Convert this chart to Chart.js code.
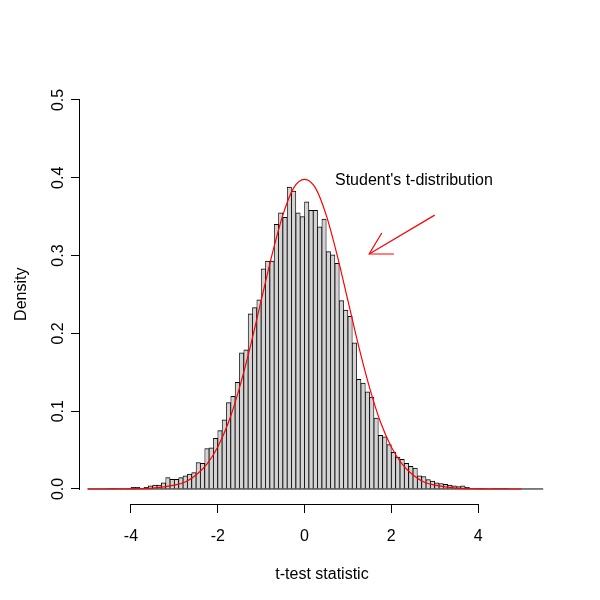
<!DOCTYPE html>
<html>
<head>
<meta charset="utf-8">
<script src="https://cdn.jsdelivr.net/npm/chart.js@4.4.0/dist/chart.umd.min.js"></script>
<style>
  html, body { margin: 0; padding: 0; background: #fff; }
  #chart { display: block; }
</style>
</head>
<body>
<canvas id="chart" width="600" height="600"></canvas>
<script>
// histogram: first break, bin width, density of each bin
var first_break = -5
var bin_width = 0.1
var densities = [
  0, 0, 0, 0, 0.0005, 0.001, 0.001, 0.0005, 0, 0.0005,
  0.002, 0.002, 0.001, 0.002, 0.004, 0.005, 0.005, 0.008, 0.0145, 0.0125,
  0.0125, 0.0145, 0.017, 0.019, 0.021, 0.034, 0.033, 0.052, 0.053, 0.065,
  0.075, 0.089, 0.111, 0.119, 0.137, 0.175, 0.179, 0.225, 0.233, 0.243,
  0.283, 0.293, 0.293, 0.340, 0.355, 0.349, 0.388, 0.383, 0.355, 0.350,
  0.369, 0.358, 0.358, 0.337, 0.347, 0.305, 0.301, 0.290, 0.242, 0.230,
  0.222, 0.188, 0.141, 0.136, 0.125, 0.118, 0.091, 0.069, 0.067, 0.057,
  0.047, 0.041, 0.038, 0.033, 0.029, 0.027, 0.017, 0.016, 0.012, 0.010,
  0.008, 0.007, 0.006, 0.005, 0.004, 0.003, 0.004, 0.002, 0.001, 0.0005,
  0.001, 0.001, 0, 0.001, 0.001, 0.001, 0.001, 0, 0, 0,
  0, 0, 0, 0, 0
]

// Student's t density curve (red)
var curve_x = [-5, -4.5, -4, -3.5, -3, -2.75, -2.5, -2.25, -2, -1.75, -1.5, -1.25, -1, -0.75, -0.5, -0.25,
  0, 0.25, 0.5, 0.75, 1, 1.25, 1.5, 1.75, 2, 2.25, 2.5, 2.75, 3, 3.5, 4, 4.5, 5]
var curve_y = [0, 0, 0.0002, 0.001, 0.005, 0.009, 0.018, 0.032, 0.054, 0.086, 0.13, 0.183, 0.242, 0.301, 0.352, 0.387,
  0.398, 0.387, 0.352, 0.301, 0.242, 0.183, 0.13, 0.086, 0.054, 0.032, 0.018, 0.009, 0.005, 0.001, 0.0002, 0, 0]

// arrow pointing at the curve, and its label
var arrow_shaft_x = [3.0, 1.49]
var arrow_shaft_y = [0.352, 0.302]
var arrow_head_x = [1.78, 1.49, 2.06]
var arrow_head_y = [0.329, 0.302, 0.302]
var note_text = "Student's t-distribution"
var note_x = 2.52
var note_y = 0.396

var x_ticks = [-4, -2, 0, 2, 4]
var y_ticks = [0, 0.1, 0.2, 0.3, 0.4, 0.5]

var FONT = '"Liberation Sans", Arial, Helvetica, sans-serif'

function pts(xs, ys) {
  return xs.map(function (x, i) { return {x: x, y: ys[i]} })
}

var bars = densities.map(function (d, i) {
  return {x: first_break + bin_width * (i + 0.5), y: d}
})
var last_break = first_break + bin_width * densities.length

// R-style axis lines (only between first and last tick) and the note text
var rAxes = {
  id: 'rAxes',
  afterDraw: function (chart) {
    var ctx = chart.ctx, xs = chart.scales.x, ys = chart.scales.y, area = chart.chartArea
    ctx.save()
    ctx.strokeStyle = '#000'
    ctx.lineWidth = 1
    ctx.beginPath()
    var yb = Math.round(area.bottom) + 0.5
    ctx.moveTo(Math.round(xs.getPixelForValue(x_ticks[0])), yb)
    ctx.lineTo(Math.round(xs.getPixelForValue(x_ticks[x_ticks.length - 1])) + 1, yb)
    var xl = Math.round(area.left) - 0.5
    ctx.moveTo(xl, Math.round(ys.getPixelForValue(y_ticks[0])) + 1)
    ctx.lineTo(xl, Math.round(ys.getPixelForValue(y_ticks[y_ticks.length - 1])))
    ctx.stroke()

    ctx.fillStyle = '#000'
    ctx.font = '16px ' + FONT
    ctx.textAlign = 'center'
    ctx.textBaseline = 'middle'
    ctx.fillText(note_text, xs.getPixelForValue(note_x), ys.getPixelForValue(note_y))
    ctx.restore()
  }
}

var bgWhite = {
  id: 'bgWhite',
  beforeDraw: function (chart) {
    var ctx = chart.ctx
    ctx.save()
    ctx.fillStyle = '#fff'
    ctx.fillRect(0, 0, chart.width, chart.height)
    ctx.restore()
  }
}

Chart.defaults.font.family = FONT
Chart.defaults.font.size = 16
Chart.defaults.color = '#000'

new Chart(document.getElementById('chart'), {
  type: 'bar',
  data: {
    datasets: [
      {
        type: 'line', label: 't density', data: pts(curve_x, curve_y), order: 0,
        borderColor: '#ff0000', borderWidth: 1.2, pointRadius: 0,
        cubicInterpolationMode: 'monotone', fill: false
      },
      {
        type: 'line', label: 'arrow shaft', data: pts(arrow_shaft_x, arrow_shaft_y), order: 0,
        borderColor: '#ff0000', borderWidth: 1.2, pointRadius: 0, tension: 0, fill: false
      },
      {
        type: 'line', label: 'arrow head', data: pts(arrow_head_x, arrow_head_y), order: 0,
        borderColor: '#ff0000', borderWidth: 1.2, pointRadius: 0, tension: 0, fill: false
      },
      {
        type: 'line', label: 'baseline', data: [{x: first_break, y: 0}, {x: last_break, y: 0}], order: 1,
        borderColor: '#000', borderWidth: 1, pointRadius: 0, fill: false
      },
      {
        type: 'bar', label: 'histogram', data: bars, order: 2,
        backgroundColor: '#d3d3d3', borderColor: '#000',
        borderWidth: {top: 1, left: 0.8, right: 0.8, bottom: 0},
        borderSkipped: false,
        barPercentage: 1, categoryPercentage: 1
      }
    ]
  },
  options: {
    responsive: false,
    animation: false,
    devicePixelRatio: 1,
    layout: {padding: {top: 84.4, right: 36, bottom: 0, left: 0}},
    plugins: {legend: {display: false}, tooltip: {enabled: false}},
    scales: {
      x: {
        type: 'linear', min: -5.175, max: 5.98, offset: false,
        afterBuildTicks: function (s) { s.ticks = x_ticks.map(function (v) { return {value: v} }) },
        afterFit: function (s) { s.height = 96 },
        border: {display: false},
        grid: {display: true, drawOnChartArea: false, drawTicks: true, tickLength: 9, color: '#000', offset: false},
        ticks: {padding: 14, maxRotation: 0, callback: function (v) { return String(v) }},
        title: {display: true, text: 't-test statistic', padding: {top: 0, bottom: 16}}
      },
      y: {
        type: 'linear', min: -0.0193, max: 0.52,
        afterBuildTicks: function (s) { s.ticks = y_ticks.map(function (v) { return {value: v} }) },
        afterFit: function (s) { s.width = 80 },
        border: {display: false},
        grid: {display: true, drawOnChartArea: false, drawTicks: true, tickLength: 9, color: '#000'},
        ticks: {padding: 1, minRotation: 90, maxRotation: 90, crossAlign: 'center',
          callback: function (v) { return v.toFixed(1) }},
        title: {display: true, text: 'Density', padding: {top: 12, bottom: 0}}
      }
    }
  },
  plugins: [bgWhite, rAxes]
})
</script>
</body>
</html>
